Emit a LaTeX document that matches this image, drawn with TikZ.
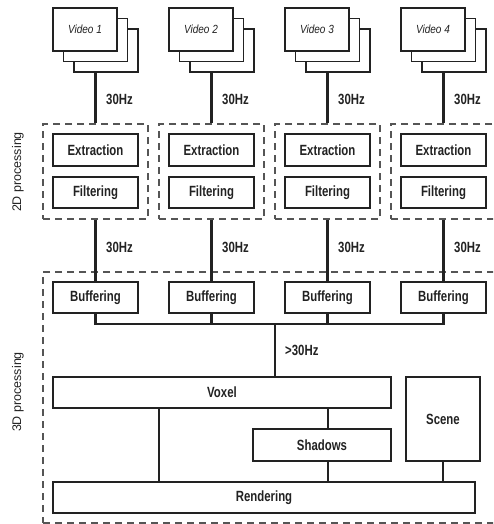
\documentclass[tikz,border=0pt]{standalone}
\usepackage{fontspec}
\setmainfont{Liberation Sans}[FakeStretch=0.77]
\newfontfamily\widesans{Liberation Sans}
\newfontfamily\vidsans{Liberation Sans}[FakeStretch=0.85]
\definecolor{ink}{HTML}{222222}
\definecolor{dashc}{HTML}{555555}
\begin{document}
\begin{tikzpicture}[x=1pt,y=-1pt,
 box/.style={draw=ink,line width=1.2pt,fill=white,inner sep=0pt,font=\fontsize{14.8}{14.8}\selectfont\bfseries,text=ink},
 vid/.style={draw=ink,line width=1.1pt,fill=white,minimum width=64pt,minimum height=43pt,inner sep=0pt,font=\vidsans\fontsize{11.8}{11.8}\selectfont\itshape,text=ink},
 conn/.style={draw=ink,line width=2.1pt},
 dbox/.style={draw=dashc,line width=1.1pt,dash pattern=on 7pt off 5pt,inner sep=0pt},
 hz/.style={font=\fontsize{14.8}{14.8}\selectfont\bfseries,text=ink,anchor=west,inner sep=0pt},
 grp/.style={font=\widesans\fontsize{12.5}{12.5}\selectfont,text=ink,rotate=90,inner sep=0pt}]
\useasboundingbox (0,0) rectangle (493,524);
\clip (0,0) rectangle (493,524);
\node[grp] (lab2d) at (18,172) {2D processing};
\node[grp] (lab3d) at (18,392) {3D processing};
\node[dbox,minimum width=460pt,minimum height=251pt] (d3) at (273,397.5) {};
\foreach \i/\c in {1/96,2/212,3/328,4/444}{
  \node[vid] (vb\i) at (\c+10,50.5) {};
  \node[vid] (vm\i) at (\c-0.5,40) {};
  \node[vid] (vf\i) at (\c-11,29.5) {Video \i};
  \node[dbox,minimum width=105pt,minimum height=95pt] (d\i) at (\c-0.5,171.5) {};
  \node[box,minimum width=85pt,minimum height=32pt] (ext\i) at (\c-0.5,150) {Extraction};
  \node[box,minimum width=85pt,minimum height=31pt] (fil\i) at (\c-0.5,192.5) {Filtering};
  \node[box,minimum width=85pt,minimum height=31pt] (buf\i) at (\c-0.5,297.5) {Buffering};
  \draw[conn] (vb\i.south -| d\i.north) -- (d\i.north);
  \draw[conn] (d\i.south) -- (buf\i.north);
  \node[hz] (hza\i) at (\c+10,99) {30Hz};
  \node[hz] (hzb\i) at (\c+10,247) {30Hz};
}
\node[box,minimum width=338pt,minimum height=31pt] (voxel) at (222,392.5) {Voxel};
\node[box,minimum width=138pt,minimum height=32pt] (shadows) at (322,445) {Shadows};
\node[box,minimum width=74pt,minimum height=84pt] (scene) at (443,419) {Scene};
\node[box,minimum width=422pt,minimum height=31pt] (rendering) at (264,497.5) {Rendering};
\coordinate (bus) at (275,324);
\draw[conn] (buf1.south) |- (bus) -| (buf4.south);
\draw[conn] (buf2.south) -- (buf2.south |- bus);
\draw[conn] (buf3.south) -- (buf3.south |- bus);
\draw[conn] (bus) -- (bus |- voxel.north);
\node[hz] (hzc) at (285,350) {>30Hz};
\draw[conn] ([xshift=-63pt]voxel.south) -- ([xshift=-63pt]voxel.south |- rendering.north);
\draw[conn] ([xshift=6pt]shadows.north |- voxel.south) -- ([xshift=6pt]shadows.north);
\draw[conn] ([xshift=6pt]shadows.south) -- ([xshift=6pt]shadows.south |- rendering.north);
\draw[conn] (scene.south) -- (scene.south |- rendering.north);
\end{tikzpicture}
\end{document}
